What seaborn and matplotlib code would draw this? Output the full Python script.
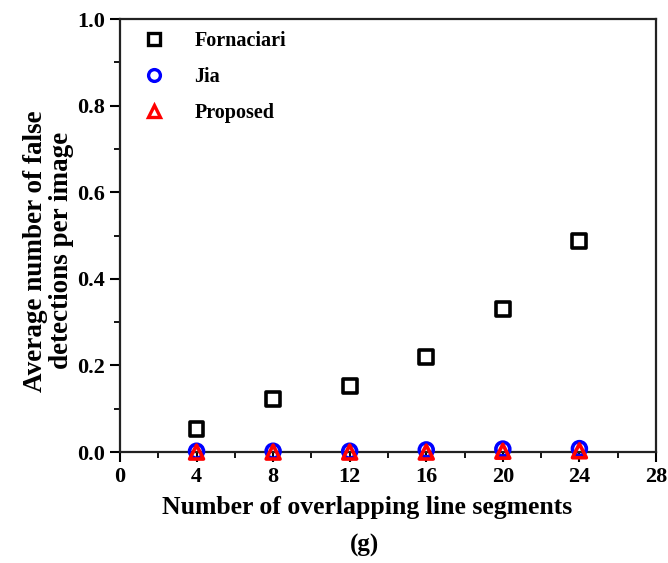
import matplotlib
matplotlib.use("Agg")
import matplotlib.pyplot as plt
from matplotlib.ticker import MultipleLocator, FormatStrFormatter
from matplotlib.lines import Line2D
import seaborn as sns
import pandas as pd

segments = [4, 8, 12, 16, 20, 24]
fornaciari = [0.053, 0.123, 0.153, 0.220, 0.330, 0.487]
jia = [0.002, 0.002, 0.002, 0.005, 0.007, 0.008]
proposed = [0.000, 0.000, 0.000, 0.000, 0.002, 0.003]
methods = ["Fornaciari", "Jia", "Proposed"]

df = pd.DataFrame({
    "segments": segments * 3,
    "value": fornaciari + jia + proposed,
    "method": [m for m in methods for _ in segments],
})

sns.set_style("ticks")
plt.rcParams["font.family"] = ["Liberation Serif", "DejaVu Serif"]
plt.rcParams["font.weight"] = "bold"
for key in ["text.color", "axes.labelcolor", "xtick.color", "ytick.color"]:
    plt.rcParams[key] = "black"

fig = plt.figure(figsize=(6.68, 5.63), dpi=100)
ax = fig.add_axes([0.1796, 0.197, 0.8024, 0.769])

palette = {"Fornaciari": "black", "Jia": "blue", "Proposed": "red"}
markers = {"Fornaciari": "s", "Jia": "o", "Proposed": "^"}
sns.scatterplot(data=df, x="segments", y="value", hue="method", style="method",
                palette=palette, markers=markers, s=100, ax=ax,
                linewidth=2.6, legend=False, zorder=3)
# open markers, outlined in each series colour
pts = ax.collections[0]
pts.set_facecolor("none")
pts.set_edgecolors([palette[m] for m in df["method"]])
pts.set_clip_on(False)

ax.set_xlim(0, 28)
ax.set_ylim(0, 1.0)
ax.xaxis.set_major_locator(MultipleLocator(4))
ax.xaxis.set_minor_locator(MultipleLocator(2))
ax.yaxis.set_major_locator(MultipleLocator(0.2))
ax.yaxis.set_minor_locator(MultipleLocator(0.1))
ax.yaxis.set_major_formatter(FormatStrFormatter("%.1f"))
ax.tick_params(which="major", direction="out", length=7, width=1.5, labelsize=16,
               top=False, right=False, pad=4)
ax.tick_params(which="minor", direction="out", length=4, width=1.3, top=False, right=False)
for lbl in ax.get_xticklabels() + ax.get_yticklabels():
    lbl.set_fontweight("bold")
for sp in ax.spines.values():
    sp.set_linewidth(1.6)
    sp.set_color("#222222")
    sp.set_visible(True)

ax.set_xlabel("Number of overlapping line segments", fontsize=18.5, fontweight="bold")
ax.xaxis.set_label_coords(0.461, -0.102)
ax.set_ylabel("Average number of false\ndetections per image", fontsize=19.5,
              fontweight="bold", linespacing=1.05)
ax.yaxis.set_label_coords(-0.086, 0.465)

handles = [Line2D([], [], linestyle="none", marker=markers[m], markersize=8.5,
                  markerfacecolor="none", markeredgecolor=palette[m], markeredgewidth=2.4)
           for m in methods]
ax.legend(handles, methods, loc="upper left", frameon=False,
          prop={"weight": "bold", "size": 14.5}, handletextpad=1.0, labelspacing=0.8,
          bbox_to_anchor=(0.0, 1.005), borderaxespad=0.3)

fig.text(0.546, 0.032, "(g)", ha="center", va="center", fontsize=18, fontweight="bold")

fig.savefig("out.png", dpi=100)
